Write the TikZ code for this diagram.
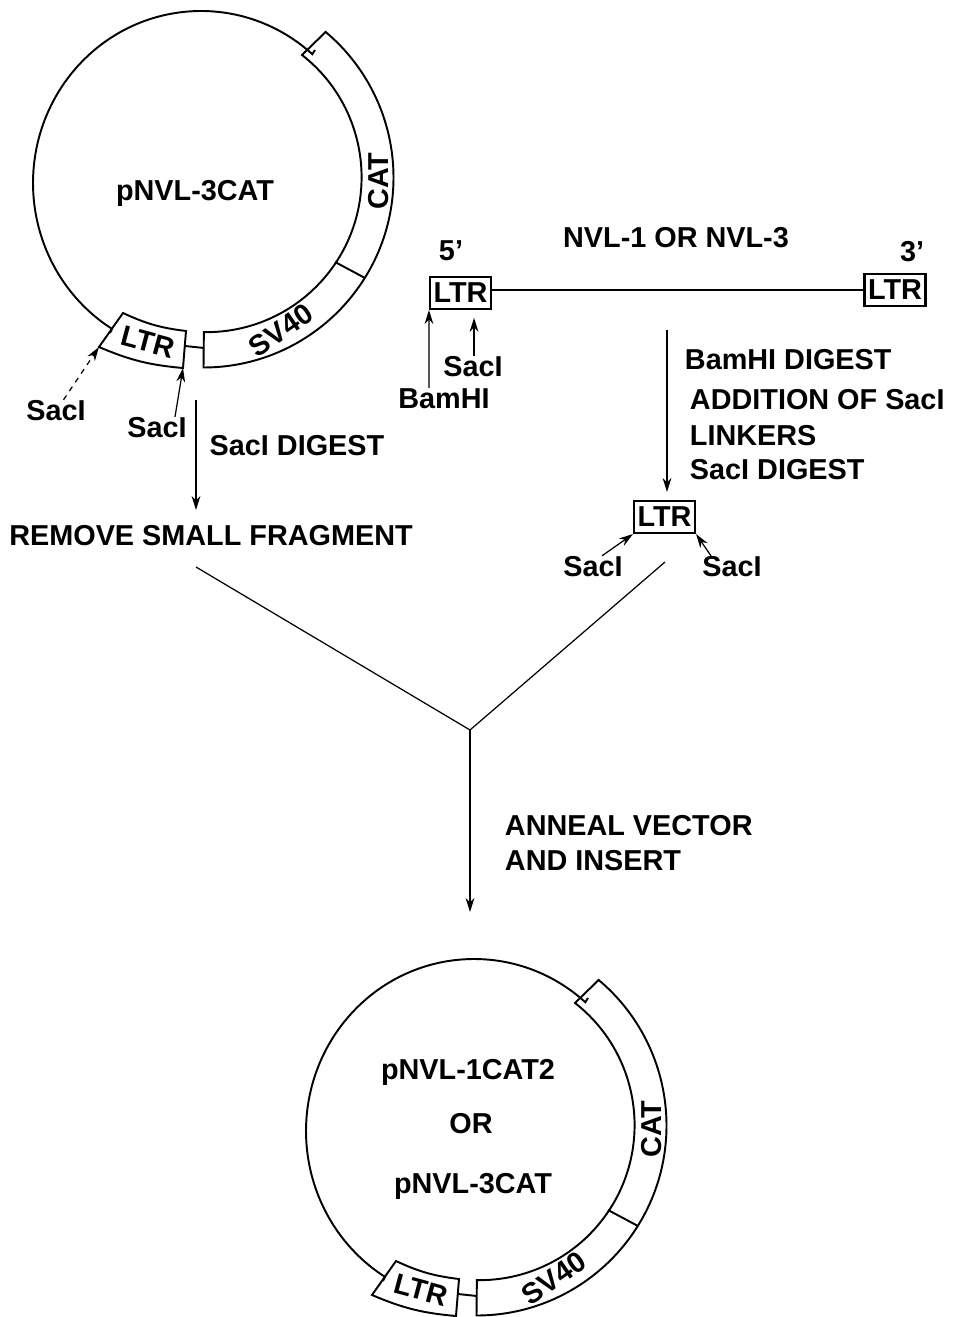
\documentclass[tikz,border=0pt]{standalone}
\usepackage{fontspec}
\setmainfont{Liberation Sans}
\usetikzlibrary{arrows.meta,calc}
\tikzset{
  lab/.style={font=\bfseries\fontsize{16.4}{18}\selectfont,inner sep=0pt},
  ltrbox/.style={lab,draw,line width=1.2pt,minimum width=1.22cm,minimum height=0.64cm},
  tipline/.style={-{Stealth[length=8pt,width=5pt]},line width=0.7pt},
  plainline/.style={line width=0.7pt},
  plasmid/.pic={
    % backbone
    \coordinate (-catedge) at (315,-50);
    \coordinate (-ltredge) at (110,-333);
    \coordinate (-ltrlow) at (99,-347);
    \coordinate (-ltrright) at (183,-368);
    \draw (-catedge) -- ({201+168*cos(48.5)},{-183+172*sin(48.5)}) arc[start angle=48.5,end angle=238,x radius=168,y radius=172] -- (-ltredge);
    \draw (185,-346) -- (204,-348);
    % LTR segment
    \draw (-ltrlow) to[bend right=9] (-ltrright) -- (186,-331) to[bend left=9] (123,-313) -- cycle;
    % SV40 and CAT
    \draw (203.5,-367.5) arc[start angle=-90,end angle=50,radius=190] -- (302,-55) arc[start angle=52,end angle=-91,radius=155] -- cycle;
    \draw (335,-262) -- (365,-278);
    \node[lab,rotate=-15] (-ltr) at (148,-342) {LTR};
    \node[lab,rotate=35] (-sv) at (281,-330) {SV40};
    \node[lab,rotate=90] (-cat) at (379,-181) {CAT};
  }
}
\begin{document}
\begin{tikzpicture}[x=0.02cm,y=0.02cm,line width=1.1pt]
  \useasboundingbox (0,0) rectangle (954,-1317);
  % vector
  \pic (vec) at (0,0) {plasmid};
  \node[lab] (vecname) at (195,-193) {pNVL-3CAT};
  \node[lab] (sacA) at (56,-411) {SacI};
  \node[lab] (sacB) at (157,-428) {SacI};
  \draw[tipline,dashed] (sacA) -- (vec-ltrlow);
  \draw[tipline] (sacB.north -| 175,0) -- (vec-ltrright);
  \coordinate (digtop) at (196,-400);
  \coordinate (digend) at (196,-510);
  \draw[tipline] (digtop) -- (digend);
  \node[lab] (digest) at (297,-446) {SacI DIGEST};
  \node[lab] (remove) at (211,-536) {REMOVE SMALL FRAGMENT};
  % insert
  \node[ltrbox] (ltrA) at (460.5,-293) {LTR};
  \node[ltrbox] (ltrB) at (895,-290) {LTR};
  \draw[line width=1.5pt] (ltrA.east |- ltrB) -- (ltrB);
  \node[lab] (five) at (451,-251) {5'};
  \node[lab] (three) at (912,-252) {3'};
  \node[lab] (nvl) at (676,-238) {NVL-1 OR NVL-3};
  \node[lab] (sacC) at (473,-367) {SacI};
  \node[lab] (bam) at (444,-399) {BamHI};
  \draw[tipline] (bam.north -| 429,0) -- (ltrA.south west);
  \draw[tipline] (sacC.north -| ltrA.south east) ++(-18,0) -- ++(0,38);
  \coordinate (nvltop) at (667,-330);
  \draw[tipline] (nvltop) -- (667,-492);
  \node[lab,anchor=west] (stepA) at (684,-360) {BamHI DIGEST};
  \node[lab,anchor=west] (stepB) at (689,-400) {ADDITION OF SacI};
  \node[lab,anchor=west] (stepC) at (689,-436) {LINKERS};
  \node[lab,anchor=west] (stepD) at (689,-470) {SacI DIGEST};
  \node[ltrbox] (ltrC) at (664.5,-517) {LTR};
  \node[lab] (sacD) at (593,-567) {SacI};
  \node[lab] (sacE) at (732,-567) {SacI};
  \draw[tipline] (sacD.north -| 602,0) -- (ltrC.south west);
  \draw[tipline] (sacE.north -| 711,0) -- (ltrC.south east);
  % joining
  \coordinate (join) at (470,-730);
  \draw[plainline] (196,-567) -- (join);
  \draw[plainline] (665,-562) -- (join);
  \draw[tipline] (join) -- (470,-912);
  \node[lab,anchor=west] (annealA) at (504,-826) {ANNEAL VECTOR};
  \node[lab,anchor=west] (annealB) at (504,-861) {AND INSERT};
  % product
  \pic (prod) at (273,-948) {plasmid};
  \node[lab] (prodA) at (468,-1072) {pNVL-1CAT2};
  \node[lab] (prodB) at (471,-1124) {OR};
  \node[lab] (prodC) at (473,-1186) {pNVL-3CAT};
\end{tikzpicture}
\end{document}
